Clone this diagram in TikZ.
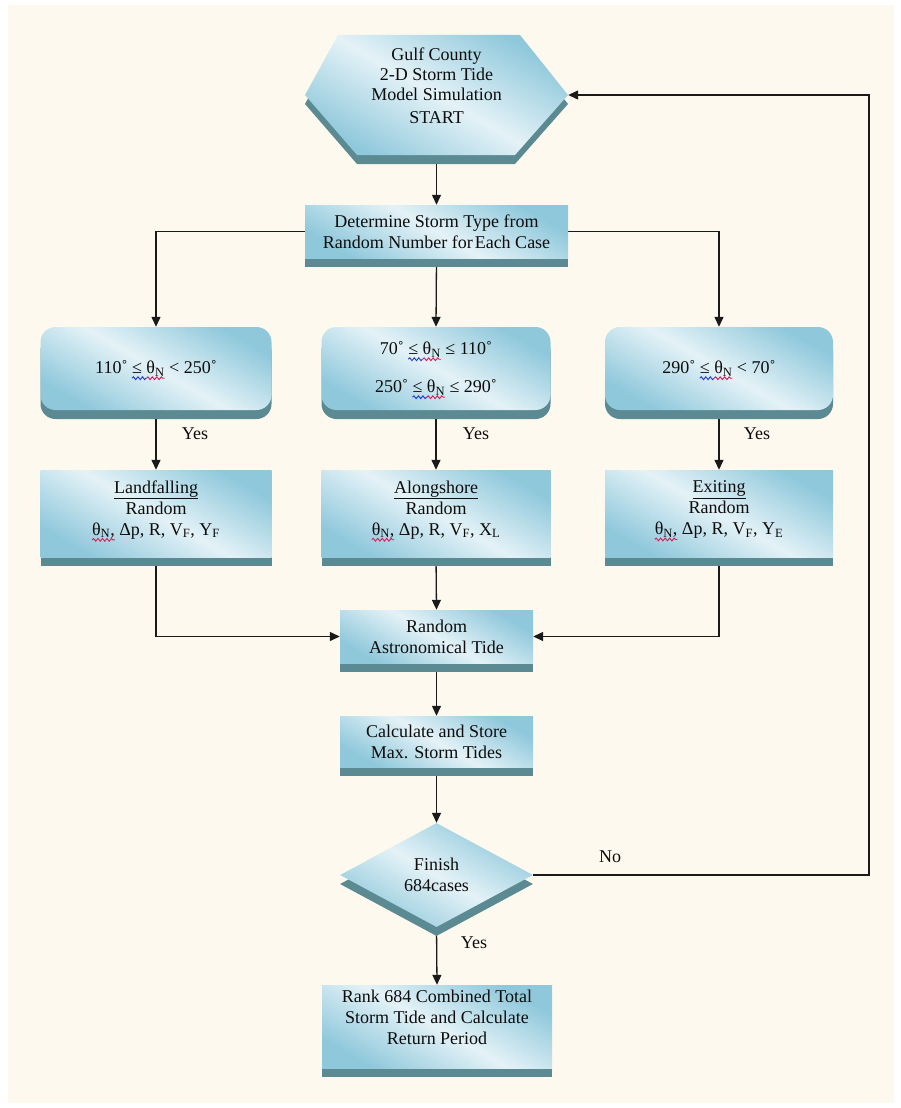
\documentclass[tikz,border=0pt]{standalone}
\usepackage{fontspec}
\setmainfont{Liberation Serif}
\newfontfamily\nf{Liberation Serif}
\usetikzlibrary{arrows.meta,shapes.geometric,shadows,calc,decorations.pathmorphing}
\definecolor{cream}{HTML}{FEF9EE}
\definecolor{facedark}{HTML}{8FC8DB}
\definecolor{facelight}{HTML}{E4F2F7}
\definecolor{shadowc}{HTML}{5B8A93}
\definecolor{linec}{HTML}{1A1A1A}
\definecolor{sqblue}{HTML}{2236D0}
\definecolor{sqred}{HTML}{D81E5B}
\newsavebox\sqbox
\newlength\sqlen
\newcommand\sq[2]{\sbox\sqbox{#2}\setlength\sqlen{\wd\sqbox}\rlap{\usebox\sqbox}%
  \begin{tikzpicture}[x=1pt,y=1pt,baseline=0pt,sharp corners]
    \useasboundingbox (0pt,0pt) rectangle (\sqlen,0pt);
    \draw[#1, sharp corners, line width=0.9pt, decorate, decoration={snake, amplitude=1.4pt, segment length=4.5pt}]
      (0pt,-4.5pt) -- (\sqlen,-4.5pt);
  \end{tikzpicture}}
\newcommand\thN{θ\textsubscript{N}}
\pgfdeclarelayer{bg}
\pgfdeclarelayer{lines}
\pgfsetlayers{bg,lines,main}
\tikzset{
  txt/.style={font=\nf\fontsize{18}{21}\selectfont, text=black!95},
  face/.style={txt, align=center, inner sep=0pt,
    top color=facedark, bottom color=facedark, middle color=facelight, shading angle=-30,
    general shadow={shadow yshift=-9pt, fill=shadowc}},
  sbox/.style={face, rectangle},
  rbox/.style={face, rectangle, rounded corners=15pt},
  dbox/.style={face, diamond},
  conn/.style={draw=linec, line width=1.3pt},
  arr/.style={conn, -{Triangle[length=10pt,width=9pt]}},
  lbl/.style={txt, inner sep=1pt}
}
\begin{document}
\begin{tikzpicture}[x=1pt,y=-1pt]
\useasboundingbox (0,0) rectangle (901,1108);
\begin{pgfonlayer}{bg}
  \fill[white] (0,0) rectangle (901,1108);
  \fill[cream] (8,5) rectangle (894,1103);
\end{pgfonlayer}
% start hexagon
\def\hexpath{(338,35) -- (520,35) -- (568,95) -- (515,155) -- (357,155) -- (305,95) -- cycle}
\fill[shadowc, shift={(0,9)}] \hexpath;
\shade[top color=facedark, bottom color=facedark, middle color=facelight, shading angle=-30] \hexpath;
\node[txt, align=center, inner sep=0pt, minimum width=263pt, minimum height=120pt] (start) at (436.5,95)
  {Gulf County\\[-1pt]2-D Storm Tide\\[-1pt]Model Simulation\\[2pt]START\\[-2pt]};
% boxes
\node[sbox, minimum width=263pt, minimum height=53pt] (type) at (436.5,231.5)
  {Determine Storm Type from\\Random Number for\kern2pt Each Case};
\node[rbox, minimum width=231pt, minimum height=83pt] (c1) at (156,368.5)
  {110˚ \sq{sqblue}{≤\ }\sq{sqred}{\thN} < 250˚};
\node[rbox, minimum width=229pt, minimum height=83pt] (c2) at (436,368.5)
  {70˚ \sq{sqblue}{≤\ }\sq{sqred}{\thN} ≤ 110˚\\[17pt]250˚ \sq{sqblue}{≤\ }\sq{sqred}{\thN} ≤ 290˚};
\node[rbox, minimum width=228pt, minimum height=83pt] (c3) at (719,368.5)
  {290˚ \sq{sqblue}{≤\ }\sq{sqred}{\thN} < 70˚};
\node[sbox, minimum width=231pt, minimum height=87pt] (t1) at (156,513.5)
  {\underline{Landfalling}\\Random\\\sq{sqred}{\thN,} Δp, R, V\textsubscript{F}, Y\textsubscript{F}\\[-10pt]};
\node[sbox, minimum width=229pt, minimum height=87pt] (t2) at (436,513.5)
  {\underline{Alongshore}\\Random\\\sq{sqred}{\thN,} Δp, R, V\textsubscript{F}, X\textsubscript{L}\\[-10pt]};
\node[sbox, minimum width=228pt, minimum height=87pt] (t3) at (719,513.5)
  {\underline{Exiting}\\Random\\\sq{sqred}{\thN,} Δp, R, V\textsubscript{F}, Y\textsubscript{E}\\[-10pt]};
\node[sbox, minimum width=193pt, minimum height=53pt] (tide) at (436.5,636.5)
  {Random\\Astronomical Tide};
\node[sbox, minimum width=193pt, minimum height=51pt] (calc) at (436.5,741.5)
  {Calculate and Store\\Max. Storm Tides};
\node[dbox, minimum width=193pt, minimum height=104pt] (fin) at (436.5,875)
  {Finish\\684cases};
\node[sbox, minimum width=230pt, minimum height=83pt] (rank) at (437,1026.5)
  {Rank 684 Combined Total\\Storm Tide and Calculate\\Return Period\\[-3pt]};
% labels
\node[lbl] (y1) at (195,434) {Yes};
\node[lbl] (y2) at (476,434) {Yes};
\node[lbl] (y3) at (757,434) {Yes};
\node[lbl] (no) at (610,857) {No};
\node[lbl] (y4) at (474,943) {Yes};
\coordinate (loopx) at (869,0);
% connectors
\begin{pgfonlayer}{lines}
  \draw[arr] (start.south) -- (type.north);
  \draw[arr] (type.west) -| (c1.north);
  \draw[arr] (type.south) -- (c2.north);
  \draw[arr] (type.east) -| (c3.north);
  \draw[arr] (c1.south) -- (t1.north);
  \draw[arr] (c2.south) -- (t2.north);
  \draw[arr] (c3.south) -- (t3.north);
  \draw[arr] (t1.south) |- (tide.west);
  \draw[arr] (t2.south) -- (tide.north);
  \draw[arr] (t3.south) |- (tide.east);
  \draw[arr] (tide.south) -- (calc.north);
  \draw[arr] (calc.south) -- (fin.north);
  \draw[arr] (fin.south) -- (rank.north);
  \draw[arr] (fin.east) -- (fin.east -| loopx) |- (start.east);
\end{pgfonlayer}
\end{tikzpicture}
\end{document}
